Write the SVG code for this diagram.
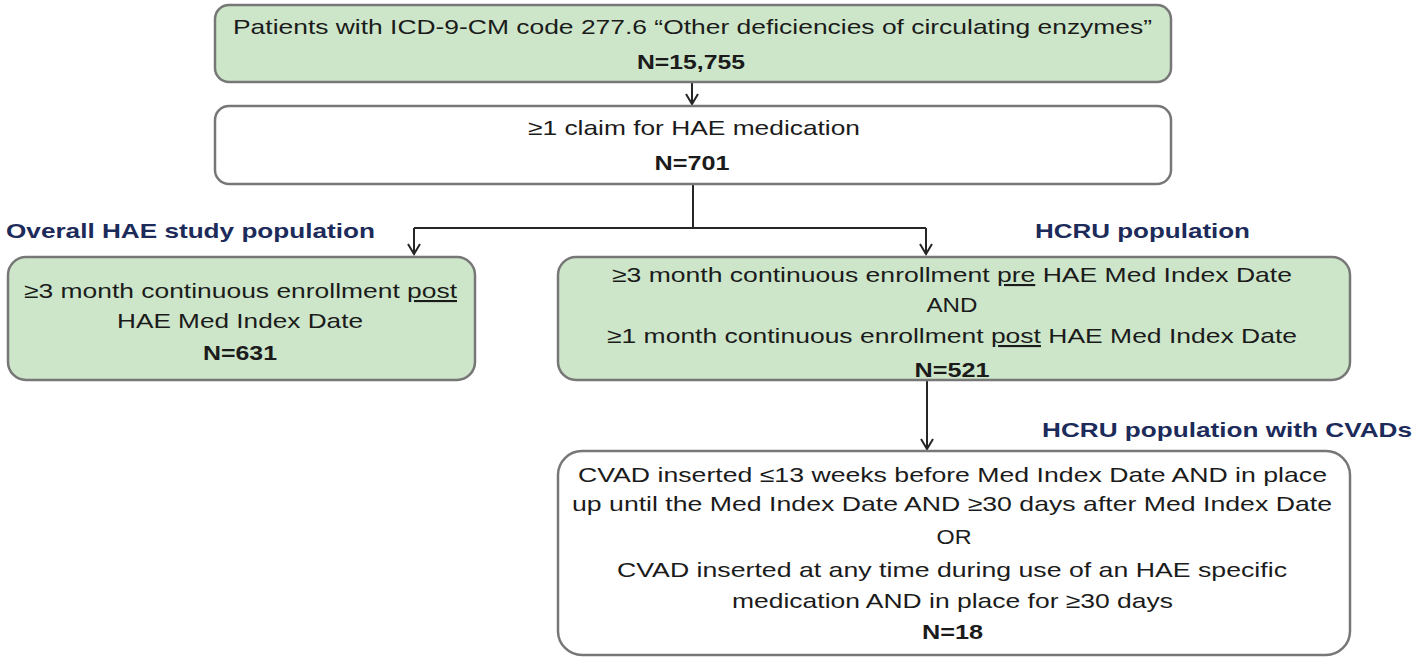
<svg xmlns="http://www.w3.org/2000/svg" width="1418" height="660" viewBox="0 0 1418 660">
  <style>
    .green { fill: #cde6c9; stroke: #777777; stroke-width: 2.5; }
    .white { fill: #ffffff; stroke: #777777; stroke-width: 2.5; }
    .t { font-family: "Liberation Sans", Arial, sans-serif; font-size: 21px; fill: #1b1b1b; text-anchor: middle; }
    .b { font-weight: bold; }
    .h { font-family: "Liberation Sans", Arial, sans-serif; font-size: 21px; font-weight: bold; fill: #1c2b5a; }
    .u { text-decoration: underline; }
    .conn { fill: none; stroke: #262626; stroke-width: 2; }
  </style>
  <defs>
    <marker id="arr" markerUnits="userSpaceOnUse" markerWidth="14" markerHeight="14" viewBox="0 0 14 14" refX="12" refY="7" orient="auto">
      <path d="M2,1 L12,7 L2,13" fill="none" stroke="#262626" stroke-width="2"/>
    </marker>
  </defs>

  <g id="connectors">
    <line class="conn" x1="692" y1="83" x2="692" y2="104" marker-end="url(#arr)"/>
    <polyline class="conn" points="693,185 693,228"/>
    <polyline class="conn" points="414,228 926,228"/>
    <line class="conn" x1="414" y1="228" x2="414" y2="254" marker-end="url(#arr)"/>
    <line class="conn" x1="926" y1="228" x2="926" y2="254" marker-end="url(#arr)"/>
    <line class="conn" x1="927" y1="381" x2="927" y2="449" marker-end="url(#arr)"/>
  </g>

  <g id="node-icd">
    <rect class="green" x="215" y="5" width="956" height="77" rx="14"/>
    <text class="t" x="692.5" y="34" textLength="919" lengthAdjust="spacingAndGlyphs">Patients with ICD-9-CM code 277.6 “Other deficiencies of circulating enzymes”</text>
    <text class="t b" x="691" y="69" textLength="108" lengthAdjust="spacingAndGlyphs">N=15,755</text>
  </g>

  <g id="node-claim">
    <rect class="white" x="215" y="106" width="956" height="78" rx="14"/>
    <text class="t" x="694" y="135" textLength="332" lengthAdjust="spacingAndGlyphs">≥1 claim for HAE medication</text>
    <text class="t b" x="692" y="170" textLength="75" lengthAdjust="spacingAndGlyphs">N=701</text>
  </g>

  <g id="label-overall">
    <text class="h" x="6" y="238" textLength="369" lengthAdjust="spacingAndGlyphs">Overall HAE study population</text>
  </g>

  <g id="label-hcru">
    <text class="h" x="1035" y="238" textLength="215" lengthAdjust="spacingAndGlyphs">HCRU population</text>
  </g>

  <g id="node-overall">
    <rect class="green" x="8" y="257" width="467" height="123" rx="18"/>
    <text class="t" x="240.5" y="298" textLength="433" lengthAdjust="spacingAndGlyphs">≥3 month continuous enrollment <tspan class="u">post</tspan></text>
    <text class="t" x="240" y="328" textLength="246" lengthAdjust="spacingAndGlyphs">HAE Med Index Date</text>
    <text class="t b" x="240" y="360" textLength="74" lengthAdjust="spacingAndGlyphs">N=631</text>
  </g>

  <g id="node-hcru">
    <rect class="green" x="558" y="257" width="792" height="123" rx="18"/>
    <text class="t" x="952" y="282" textLength="680" lengthAdjust="spacingAndGlyphs">≥3 month continuous enrollment <tspan class="u">pre</tspan> HAE Med Index Date</text>
    <text class="t" x="952" y="312" textLength="51" lengthAdjust="spacingAndGlyphs">AND</text>
    <text class="t" x="952" y="343" textLength="690" lengthAdjust="spacingAndGlyphs">≥1 month continuous enrollment <tspan class="u">post</tspan> HAE Med Index Date</text>
    <text class="t b" x="952" y="377" textLength="75" lengthAdjust="spacingAndGlyphs">N=521</text>
  </g>

  <g id="label-cvad">
    <text class="h" x="1042" y="437" textLength="370" lengthAdjust="spacingAndGlyphs">HCRU population with CVADs</text>
  </g>

  <g id="node-cvad">
    <rect class="white" x="558" y="451" width="792" height="204" rx="24"/>
    <text class="t" x="952.5" y="482" textLength="749" lengthAdjust="spacingAndGlyphs">CVAD inserted ≤13 weeks before Med Index Date AND in place</text>
    <text class="t" x="952" y="511" textLength="760" lengthAdjust="spacingAndGlyphs">up until the Med Index Date AND ≥30 days after Med Index Date</text>
    <text class="t" x="954" y="544" textLength="35" lengthAdjust="spacingAndGlyphs">OR</text>
    <text class="t" x="952" y="577" textLength="670" lengthAdjust="spacingAndGlyphs">CVAD inserted at any time during use of an HAE specific</text>
    <text class="t" x="952.5" y="608" textLength="441" lengthAdjust="spacingAndGlyphs">medication AND in place for ≥30 days</text>
    <text class="t b" x="952.5" y="639" textLength="61" lengthAdjust="spacingAndGlyphs">N=18</text>
  </g>
</svg>
